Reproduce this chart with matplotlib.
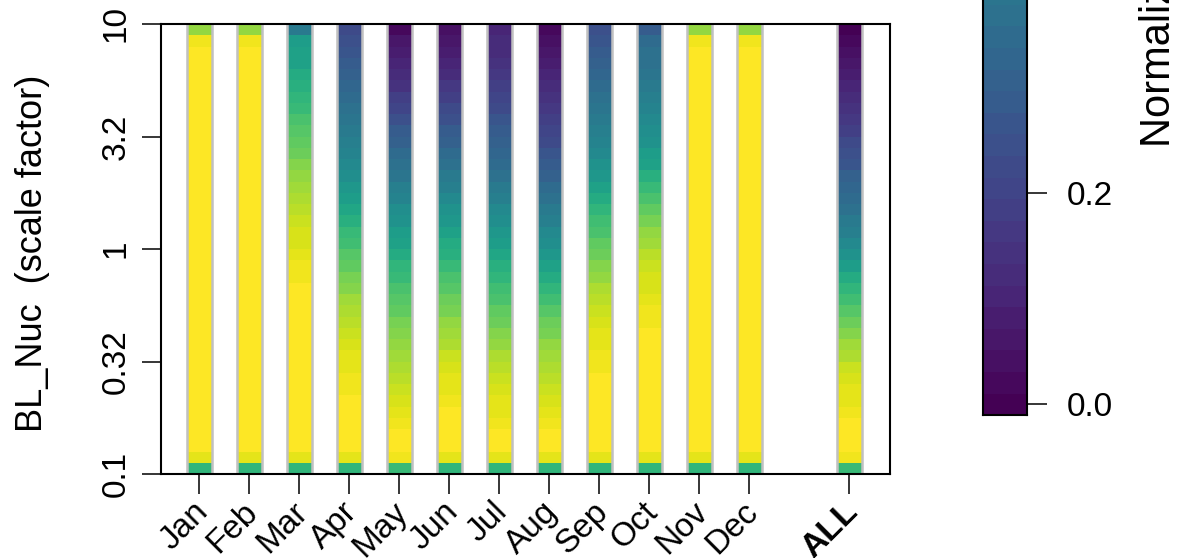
import numpy as np
import matplotlib
matplotlib.use("Agg")
import matplotlib.pyplot as plt
from matplotlib.ticker import NullLocator

plt.rcParams["font.family"] = ["Liberation Sans", "DejaVu Sans"]
plt.rcParams["font.size"] = 24

# ------------------------------------------------------
# Data: normalised value per scale-factor cell,
# listed from the top of the axis (10) down to the bottom (0.1)
# ------------------------------------------------------
months = ["Jan", "Feb", "Mar", "Apr", "May", "Jun",
          "Jul", "Aug", "Sep", "Oct", "Nov", "Dec"]
month_pos = [1, 2, 3, 4, 5, 6, 7, 8, 9, 10, 11, 12]
all_label = "ALL"
all_pos = 14

jan = [0.82, 0.96, 1, 1, 1, 1, 1, 1, 1, 1,
       1, 1, 1, 1, 1, 1, 1, 1, 1, 1,
       1, 1, 1, 1, 1, 1, 1, 1, 1, 1,
       1, 1, 1, 1, 1, 1, 1, 1, 0.95, 0.64]
feb = [0.82, 0.96, 1, 1, 1, 1, 1, 1, 1, 1,
       1, 1, 1, 1, 1, 1, 1, 1, 1, 1,
       1, 1, 1, 1, 1, 1, 1, 1, 1, 1,
       1, 1, 1, 1, 1, 1, 1, 1, 0.95, 0.64]
mar = [0.40, 0.55, 0.57, 0.58, 0.60, 0.63, 0.65, 0.67, 0.70, 0.72,
       0.75, 0.77, 0.80, 0.82, 0.85, 0.87, 0.89, 0.91, 0.92, 0.93,
       0.95, 0.96, 0.96, 1, 1, 1, 1, 1, 1, 1,
       1, 1, 1, 1, 1, 1, 1, 1, 0.95, 0.64]
apr = [0.22, 0.25, 0.27, 0.28, 0.30, 0.32, 0.34, 0.36, 0.38, 0.40,
       0.42, 0.44, 0.46, 0.49, 0.52, 0.55, 0.59, 0.63, 0.66, 0.69,
       0.72, 0.75, 0.78, 0.81, 0.84, 0.87, 0.89, 0.91, 0.93, 0.94,
       0.95, 0.96, 0.97, 0.98, 1, 1, 1, 1, 0.95, 0.64]
may = [0.03, 0.06, 0.08, 0.10, 0.13, 0.15, 0.18, 0.21, 0.25, 0.28,
       0.31, 0.34, 0.37, 0.39, 0.42, 0.45, 0.48, 0.51, 0.54, 0.57,
       0.61, 0.64, 0.67, 0.70, 0.72, 0.75, 0.78, 0.80, 0.83, 0.85,
       0.87, 0.89, 0.91, 0.93, 0.95, 0.96, 0.98, 1, 0.96, 0.66]
jun = [0.04, 0.07, 0.09, 0.11, 0.13, 0.16, 0.19, 0.22, 0.25, 0.28,
       0.31, 0.34, 0.37, 0.40, 0.43, 0.47, 0.50, 0.53, 0.57, 0.60,
       0.63, 0.66, 0.70, 0.73, 0.76, 0.79, 0.82, 0.85, 0.87, 0.90,
       0.92, 0.94, 0.95, 0.97, 0.98, 1, 1, 1, 0.95, 0.64]
jul = [0.10, 0.12, 0.13, 0.15, 0.17, 0.19, 0.21, 0.23, 0.26, 0.28,
       0.30, 0.32, 0.35, 0.37, 0.40, 0.43, 0.46, 0.49, 0.52, 0.55,
       0.59, 0.62, 0.65, 0.68, 0.71, 0.74, 0.77, 0.80, 0.83, 0.86,
       0.88, 0.90, 0.92, 0.94, 0.95, 0.96, 0.98, 1, 0.95, 0.64]
aug = [0.02, 0.04, 0.06, 0.08, 0.10, 0.12, 0.14, 0.16, 0.18, 0.20,
       0.23, 0.26, 0.28, 0.31, 0.34, 0.37, 0.40, 0.43, 0.46, 0.49,
       0.53, 0.57, 0.61, 0.65, 0.69, 0.72, 0.76, 0.79, 0.82, 0.85,
       0.87, 0.89, 0.91, 0.93, 0.95, 0.97, 1, 1, 0.95, 0.64]
sep = [0.24, 0.26, 0.28, 0.30, 0.32, 0.34, 0.36, 0.38, 0.40, 0.42,
       0.44, 0.47, 0.50, 0.53, 0.57, 0.61, 0.65, 0.68, 0.71, 0.74,
       0.77, 0.80, 0.83, 0.86, 0.88, 0.90, 0.92, 0.94, 0.95, 0.96,
       0.97, 0.98, 1, 1, 1, 1, 1, 1, 0.95, 0.64]
oct_ = [0.28, 0.35, 0.36, 0.37, 0.38, 0.40, 0.42, 0.44, 0.46, 0.48,
        0.51, 0.54, 0.58, 0.62, 0.66, 0.70, 0.74, 0.78, 0.82, 0.85,
        0.88, 0.91, 0.92, 0.93, 0.95, 0.96, 0.97, 0.98, 1, 1,
        1, 1, 1, 1, 1, 1, 1, 1, 0.95, 0.64]
nov = [0.82, 0.96, 1, 1, 1, 1, 1, 1, 1, 1,
       1, 1, 1, 1, 1, 1, 1, 1, 1, 1,
       1, 1, 1, 1, 1, 1, 1, 1, 1, 1,
       1, 1, 1, 1, 1, 1, 1, 1, 0.95, 0.64]
dec = [0.82, 0.96, 1, 1, 1, 1, 1, 1, 1, 1,
       1, 1, 1, 1, 1, 1, 1, 1, 1, 1,
       1, 1, 1, 1, 1, 1, 1, 1, 1, 1,
       1, 1, 1, 1, 1, 1, 1, 1, 0.95, 0.64]
all_months = [0.01, 0.03, 0.05, 0.07, 0.09, 0.11, 0.13, 0.15, 0.17, 0.19,
              0.22, 0.24, 0.27, 0.30, 0.32, 0.35, 0.37, 0.40, 0.43, 0.47,
              0.51, 0.55, 0.60, 0.65, 0.69, 0.73, 0.77, 0.81, 0.84, 0.87,
              0.90, 0.92, 0.94, 0.95, 0.96, 0.98, 1, 1, 0.96, 0.66]

ytick_vals = [0.1, 0.3162, 1, 3.162, 10]
ytick_labels = ["0.1", "0.32", "1", "3.2", "10"]
cbar_ticks = [0.0, 0.2, 0.4, 0.6, 0.8, 1.0]
cbar_labels = ["0.0", "0.2", "0.4", "0.6", "0.8", "1.0"]

W, H, DPI = 1192, 558, 100
N_COL = 50


def px_box(left, top, right, bottom):
    return [left / W, 1 - bottom / H, (right - left) / W, (bottom - top) / H]


def main():
    fig = plt.figure(figsize=(W / DPI, H / DPI), dpi=DPI)
    ax = fig.add_axes(px_box(161, 24, 890, 474))

    cmap = plt.get_cmap("viridis", N_COL)
    y_edges = np.logspace(1, -1, 41)

    columns = [jan, feb, mar, apr, may, jun, jul, aug, sep, oct_, nov, dec, all_months]
    positions = month_pos + [all_pos]
    half = 0.25
    for pos, vals in zip(positions, columns):
        c = np.array(vals).reshape(-1, 1)
        ax.pcolormesh([pos - half, pos + half], y_edges, c,
                      cmap=cmap, vmin=0, vmax=1, shading="flat")
        ax.vlines([pos - half, pos + half], 0.1, 10, colors="#c0c0c0", lw=1.8, zorder=3)

    ax.set_yscale("log")
    ax.set_ylim(0.1, 10)
    ax.set_xlim(0.24, 14.82)
    ax.yaxis.set_minor_locator(NullLocator())

    for sp in ax.spines.values():
        sp.set_linewidth(1.5)
        sp.set_zorder(5)

    ax.set_yticks(ytick_vals)
    ax.set_yticklabels(ytick_labels)
    for lab in ax.get_yticklabels():
        lab.set_rotation(90)
        lab.set_va("center")
    ax.tick_params(axis="y", length=14, width=1.1, pad=7)

    ax.set_xticks(positions)
    ax.set_xticklabels([])
    ax.tick_params(axis="x", length=14.4, width=1.1)
    for pos, lab in zip(positions, months + [all_label]):
        ax.annotate(lab, xy=(pos, 0.1), xycoords="data",
                    xytext=(4, -33), textcoords="offset pixels",
                    rotation=45, ha="right", va="center",
                    rotation_mode="anchor",
                    fontweight="bold" if lab == all_label else "normal",
                    annotation_clip=False)

    fig.text(33 / W, 1 - 432 / H, "BL_Nuc  (scale factor)", fontsize=26,
             rotation=90, ha="left", va="center", rotation_mode="anchor")

    # colour bar, most of it runs off the top of the figure
    cax = fig.add_axes(px_box(983, -664.5, 1027, 415.1))
    step = 1.0 / (N_COL - 1)
    cb_edges = np.linspace(-step / 2, 1 + step / 2, N_COL + 1)
    cb_vals = np.linspace(0, 1, N_COL).reshape(-1, 1)
    cax.pcolormesh([0, 1], cb_edges, cb_vals, cmap=cmap, vmin=0, vmax=1, shading="flat")
    cax.set_ylim(cb_edges[0], cb_edges[-1])
    cax.set_xlim(0, 1)
    cax.set_xticks([])
    cax.yaxis.tick_right()
    cax.set_yticks(cbar_ticks)
    cax.set_yticklabels(cbar_labels)
    cax.tick_params(axis="y", length=14.4, width=1.1, pad=14)
    for sp in cax.spines.values():
        sp.set_linewidth(1.5)

    fig.text(1159 / W, 1 - 147 / H, "Normalized likelihood", fontsize=30,
             rotation=90, ha="left", va="center", rotation_mode="anchor")

    fig.savefig("out.png", dpi=DPI)
    plt.close(fig)


if __name__ == "__main__":
    main()
